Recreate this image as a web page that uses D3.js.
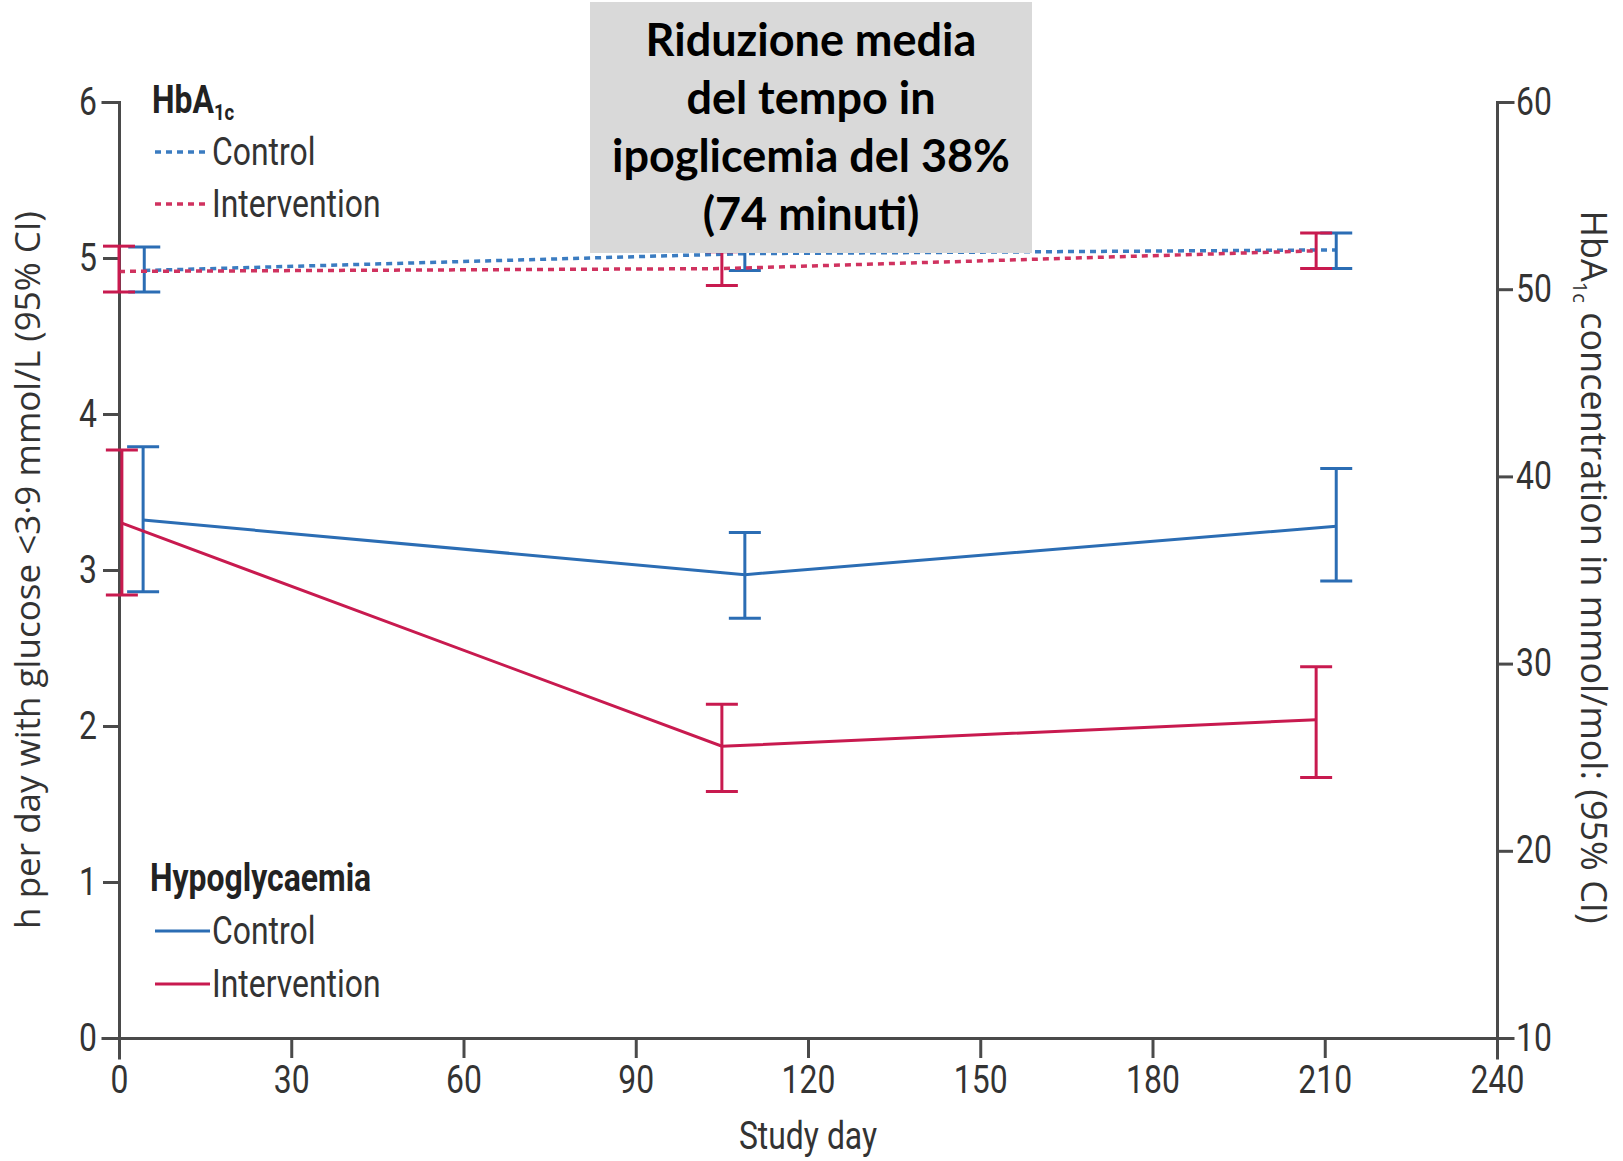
<!DOCTYPE html>
<html>
<head>
<meta charset="utf-8">
<script src="https://cdn.jsdelivr.net/npm/d3@7"></script>
<style>
  body { margin: 0; background: #fff; }
  .narrow { font-family: Roboto, sans-serif; }
  .axis text { font-family: Roboto, sans-serif; font-size: 38px; fill: #333; }
  .axis path, .axis line { stroke: #4a4a4a; stroke-width: 3; }
</style>
</head>
<body>
<div id="chart"></div>
<script>
// hypoglycaemia, h per day (left axis)
const hypoControlDay = [4.2, 109, 212];
const hypoControlMean = [3.32, 2.97, 3.28];
const hypoControlLow = [2.86, 2.69, 2.93];
const hypoControlHigh = [3.79, 3.24, 3.65];

const hypoInterDay = [0.5, 105, 208.5];
const hypoInterMean = [3.30, 1.87, 2.04];
const hypoInterLow = [2.84, 1.58, 1.67];
const hypoInterHigh = [3.77, 2.14, 2.38];

// HbA1c, mmol/mol (right axis)
const hbaControlDay = [4.4, 109, 212];
const hbaControlMean = [51.0, 51.9, 52.1];
const hbaControlLow = [49.85, 51.0, 51.1];
const hbaControlHigh = [52.25, 52.8, 53.0];

const hbaInterDay = [0, 105, 208.5];
const hbaInterMean = [50.95, 51.1, 52.05];
const hbaInterLow = [49.85, 50.2, 51.1];
const hbaInterHigh = [52.3, 52.0, 53.0];

const xTicks = [0, 30, 60, 90, 120, 150, 180, 210, 240];
const yLeftTicks = [0, 1, 2, 3, 4, 5, 6];
const yRightTicks = [10, 20, 30, 40, 50, 60];

const boxLines = ["Riduzione media", "del tempo in", "ipoglicemia del 38%", "(74 minuti)"];

const blue = "#2b6db4", red = "#c81a4f";
const blueDash = "#3b7cc1", redDash = "#d0325f";
const squeeze = 0.84; // condensed look for the journal font

const W = 1623, H = 1161;
const margin = { left: 119, right: 126, top: 102, bottom: 123 };

const x = d3.scaleLinear().domain([0, 240]).range([margin.left, W - margin.right]);
const yL = d3.scaleLinear().domain([0, 6]).range([H - margin.bottom, margin.top]);
const yR = d3.scaleLinear().domain([10, 60]).range([H - margin.bottom, margin.top]);

const svg = d3.select("#chart").append("svg")
    .attr("width", W).attr("height", H);

// squeeze tick labels horizontally, keeping their offset from the tick
function condenseTicks(g) {
    g.selectAll(".tick text").each(function () {
        const t = d3.select(this);
        const xv = +t.attr("x") || 0;
        t.attr("x", xv / squeeze).attr("transform", "scale(" + squeeze + ",1)");
    });
}

// axes
svg.append("g").attr("class", "axis")
    .attr("transform", "translate(0," + (H - margin.bottom) + ")")
    .call(d3.axisBottom(x).tickValues(xTicks).tickSize(20).tickPadding(8).tickFormat(d3.format("d")))
    .call(condenseTicks);

svg.append("g").attr("class", "axis")
    .attr("transform", "translate(" + margin.left + ",0)")
    .call(d3.axisLeft(yL).tickValues(yLeftTicks).tickSize(16).tickPadding(6).tickFormat(d3.format("d")))
    .call(condenseTicks);

svg.append("g").attr("class", "axis")
    .attr("transform", "translate(" + (W - margin.right) + ",0)")
    .call(d3.axisRight(yR).tickValues(yRightTicks).tickSize(16).tickPadding(3).tickFormat(d3.format("d")))
    .call(condenseTicks);

svg.selectAll(".axis .domain").attr("stroke-linecap", "square");

// helper to build a series table
function table(days, mean, low, high) {
    return days.map((d, i) => ({ day: d, mean: mean[i], low: low[i], high: high[i] }));
}

function drawSeries(data, y, color, lineColor, dash) {
    const line = d3.line().x(d => x(d.day)).y(d => y(d.mean));
    svg.append("path").datum(data)
        .attr("d", line)
        .attr("fill", "none")
        .attr("stroke", lineColor)
        .attr("stroke-width", dash ? 3.5 : 3)
        .attr("stroke-dasharray", dash ? "6,5" : null);

    const g = svg.append("g").attr("stroke", color).attr("stroke-width", 3);
    const cap = 16;
    g.selectAll(".v").data(data).enter().append("line")
        .attr("x1", d => x(d.day)).attr("x2", d => x(d.day))
        .attr("y1", d => y(d.low)).attr("y2", d => y(d.high));
    g.selectAll(".lo").data(data).enter().append("line")
        .attr("x1", d => x(d.day) - cap).attr("x2", d => x(d.day) + cap)
        .attr("y1", d => y(d.low)).attr("y2", d => y(d.low));
    g.selectAll(".hi").data(data).enter().append("line")
        .attr("x1", d => x(d.day) - cap).attr("x2", d => x(d.day) + cap)
        .attr("y1", d => y(d.high)).attr("y2", d => y(d.high));
}

drawSeries(table(hbaControlDay, hbaControlMean, hbaControlLow, hbaControlHigh), yR, blue, blueDash, true);
drawSeries(table(hbaInterDay, hbaInterMean, hbaInterLow, hbaInterHigh), yR, red, redDash, true);
drawSeries(table(hypoControlDay, hypoControlMean, hypoControlLow, hypoControlHigh), yL, blue, blue, false);
drawSeries(table(hypoInterDay, hypoInterMean, hypoInterLow, hypoInterHigh), yL, red, red, false);

// axis titles
svg.append("text")
    .attr("transform", "translate(40,570) rotate(-90)")
    .attr("text-anchor", "middle")
    .style("font-family", "'Open Sans', sans-serif").style("font-size", "35px").style("fill", "#333")
    .text("h per day with glucose <3·9 mmol/L (95% CI)");

const rt = svg.append("text")
    .attr("transform", "translate(1581,567) rotate(90)")
    .attr("text-anchor", "middle")
    .style("font-family", "'Open Sans', sans-serif").style("font-size", "36px").style("fill", "#333");
rt.append("tspan").text("HbA");
rt.append("tspan").attr("dy", 8).style("font-size", "20px").text("1c");
rt.append("tspan").attr("dy", -8).text(" concentration in mmol/mol: (95% CI)");

// condensed text placed at (px, py)
function narrowText(px, py, anchor, bold) {
    return svg.append("g")
        .attr("transform", "translate(" + px + "," + py + ") scale(" + squeeze + ",1)")
        .append("text").attr("class", "narrow")
        .attr("text-anchor", anchor)
        .style("font-size", "38px")
        .style("font-weight", bold ? "bold" : null)
        .style("fill", bold ? "#222" : "#333");
}

narrowText(x(120), 1149, "middle", false).text("Study day");

// legends
const lg1 = narrowText(152, 113, "start", true);
lg1.append("tspan").text("HbA");
lg1.append("tspan").attr("dy", 7).style("font-size", "22px").text("1c");

function legendItem(yPos, color, dash, label) {
    svg.append("line")
        .attr("x1", 155).attr("x2", 210).attr("y1", yPos).attr("y2", yPos)
        .attr("stroke", color).attr("stroke-width", dash ? 3.5 : 3)
        .attr("stroke-dasharray", dash ? "6,5" : null);
    narrowText(212, yPos + 13, "start", false).text(label);
}
legendItem(152, blueDash, true, "Control");
legendItem(204, redDash, true, "Intervention");

narrowText(150, 891, "start", true).text("Hypoglycaemia");
legendItem(931, blue, false, "Control");
legendItem(984, red, false, "Intervention");

// annotation box (drawn over the plot)
svg.append("rect")
    .attr("x", 590).attr("y", 2).attr("width", 442).attr("height", 251)
    .attr("fill", "#d9d9d9");
svg.append("g").selectAll("text").data(boxLines).enter().append("text")
    .attr("x", 811).attr("y", (d, i) => 56 + i * 58)
    .attr("text-anchor", "middle")
    .style("font-family", "Lato, sans-serif").style("font-weight", "bold")
    .style("font-size", "45px").style("fill", "#000")
    .text(d => d);
</script>
</body>
</html>
